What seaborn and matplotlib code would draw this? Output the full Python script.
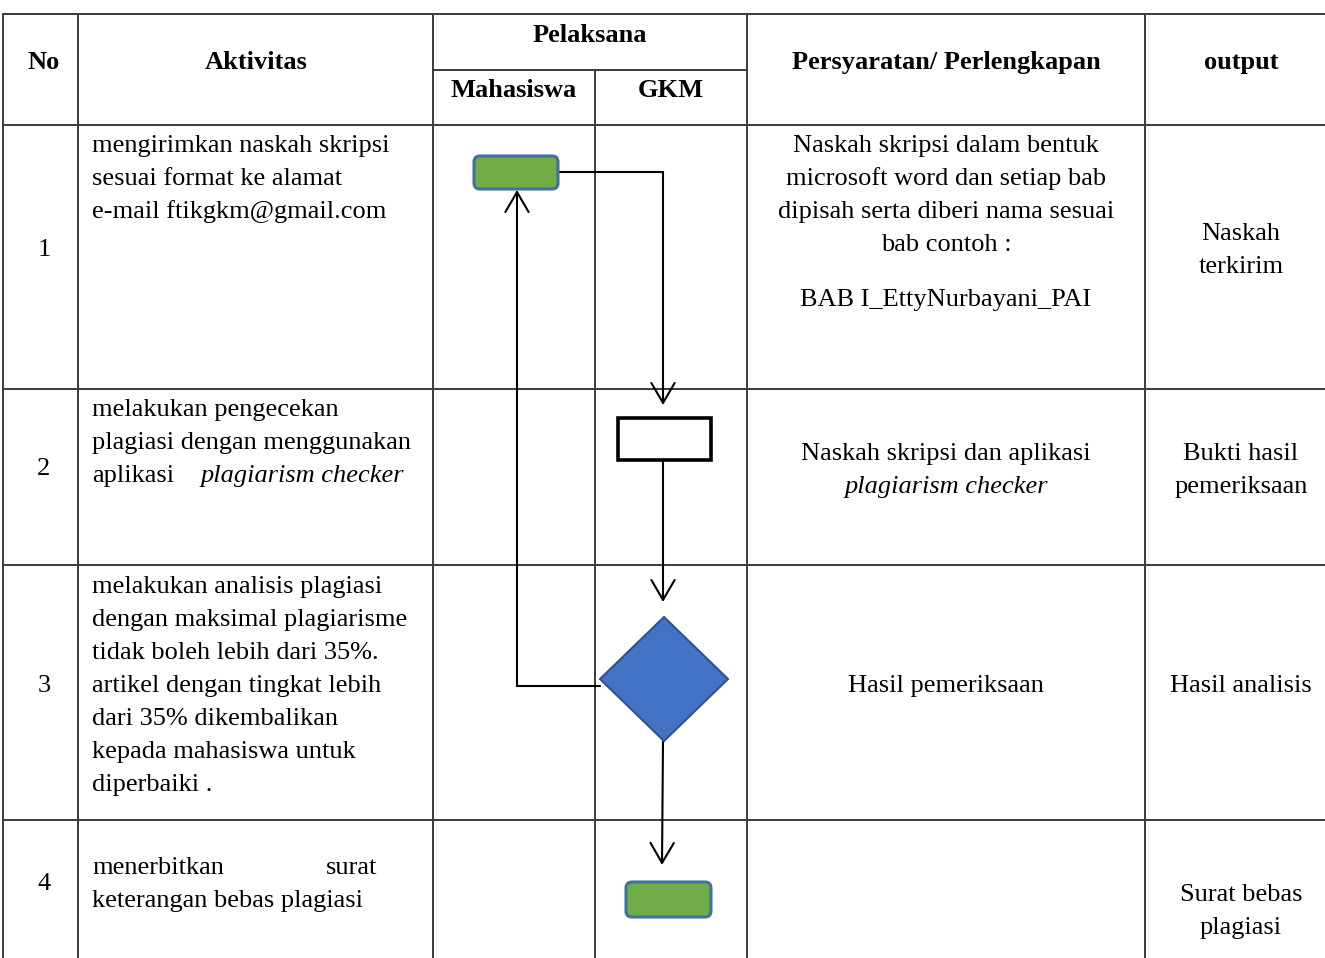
import matplotlib
matplotlib.use("Agg")
import matplotlib.pyplot as plt
import seaborn as sns
from matplotlib.patches import FancyBboxPatch, Rectangle, Polygon

# ---- data ----
headers = ["No", "Aktivitas", "Pelaksana", "Mahasiswa", "GKM",
           "Persyaratan/ Perlengkapan", "output"]
row_numbers = ["1", "2", "3", "4"]
activity_lines = [
    ["mengirimkan naskah skripsi", "sesuai format ke alamat",
     "e-mail ftikgkm@gmail.com"],
    ["melakukan pengecekan", "plagiasi dengan menggunakan", "aplikasi"],
    ["melakukan analisis plagiasi", "dengan maksimal plagiarisme",
     "tidak boleh lebih dari 35%.", "artikel dengan tingkat lebih",
     "dari 35% dikembalikan", "kepada mahasiswa untuk", "diperbaiki ."],
    ["menerbitkan", "keterangan bebas plagiasi"],
]
requirement_lines = [
    ["Naskah skripsi dalam bentuk", "microsoft word dan setiap bab",
     "dipisah serta diberi nama sesuai", "bab contoh :", "",
     "BAB I_EttyNurbayani_PAI"],
    ["Naskah skripsi dan aplikasi", "plagiarism checker"],
    ["Hasil pemeriksaan"],
    [],
]
output_lines = [
    ["Naskah", "terkirim"],
    ["Bukti hasil", "pemeriksaan"],
    ["Hasil analisis"],
    ["Surat bebas", "plagiasi"],
]

# ---- layout (pixels) ----
W, H = 1325, 958
col_x = [3, 78, 433, 595, 747, 1145, 1325]
y_top, y_mid = 14, 70
row_y = [125, 389, 565, 820, 958]
line_h = 33
dy = 3  # centre offset for text

sns.set_theme(style="white")
plt.rcParams['font.family'] = ['Liberation Serif', 'DejaVu Serif']
plt.rcParams['text.color'] = 'black'

fig = plt.figure(figsize=(W / 100, H / 100), dpi=100)
ax = fig.add_axes([0, 0, 1, 1])
ax.set_xlim(0, W)
ax.set_ylim(H, 0)
ax.axis('off')

grid_kw = dict(color='#3a3a3a', lw=1.4, zorder=1)
# horizontal lines
ax.plot([col_x[0], W], [y_top, y_top], **grid_kw)
ax.plot([col_x[2], col_x[4]], [y_mid, y_mid], **grid_kw)
for y in row_y[:-1]:
    ax.plot([col_x[0], W], [y, y], **grid_kw)
# vertical lines
for i, x in enumerate(col_x[:-1]):
    if i == 3:
        ax.plot([x, x], [y_mid, H], **grid_kw)
    else:
        ax.plot([x, x], [y_top, H], **grid_kw)

fs = 19


def put(x, y, s, **kw):
    kw.setdefault('ha', 'center')
    ax.text(x, y + dy, s, fontsize=fs, va='center', color='black', **kw)


# headers
put(44, 59, headers[0], fontweight='bold')
put(256, 59, headers[1], fontweight='bold')
put(590, 32, headers[2], fontweight='bold')
put(514, 87, headers[3], fontweight='bold')
put(671, 87, headers[4], fontweight='bold')
put(946, 59, headers[5], fontweight='bold')
put(1241, 59, headers[6], fontweight='bold')

# row numbers
num_y = [247, 466, 683, 881]
for n, y in zip(row_numbers, num_y):
    put(44, y, n)

# activities
act_y0 = [143, 407, 584, 865]
for lines, y0 in zip(activity_lines, act_y0):
    for k, t in enumerate(lines):
        put(92, y0 + k * line_h, t, ha='left')
put(201, act_y0[1] + 2 * line_h, "plagiarism checker", ha='left', style='italic')
put(377, act_y0[3], "surat", ha='right')

# requirements
req_y0 = [143, 451, 683, None]
for j, (lines, y0) in enumerate(zip(requirement_lines, req_y0)):
    for k, t in enumerate(lines):
        style = 'italic' if (j == 1 and k == 1) else 'normal'
        yy = y0 + k * line_h
        if j == 0 and k == 5:
            yy = 297
        put(946, yy, t, style=style)

# outputs
out_y0 = [231, 451, 683, 892]
for lines, y0 in zip(output_lines, out_y0):
    for k, t in enumerate(lines):
        put(1241, y0 + k * line_h, t)

# ---- flow shapes ----
green, green_edge = '#70AD47', '#41719C'
blue, blue_edge = '#4472C4', '#2F528F'

ax.add_patch(FancyBboxPatch((474, 156), 84, 33,
                            boxstyle="round,pad=0,rounding_size=6",
                            fc=green, ec=green_edge, lw=2.2, zorder=3))
ax.add_patch(Rectangle((618, 418), 93, 42, fc='white', ec='black',
                       lw=2.6, zorder=3))
ax.add_patch(Polygon([(664, 617), (728, 679), (664, 741), (600, 679)],
                     closed=True, fc=blue, ec=blue_edge, lw=1.5, zorder=3))
ax.add_patch(FancyBboxPatch((626, 882), 85, 35,
                            boxstyle="round,pad=0,rounding_size=6",
                            fc=green, ec=green_edge, lw=2.2, zorder=3))

line_kw = dict(color='black', lw=1.5, zorder=2)
arrow_kw = dict(arrowstyle='->,head_length=1.2,head_width=0.7',
                color='black', lw=1.5, shrinkA=0, shrinkB=0)

# start -> check
ax.plot([558, 663], [172, 172], **line_kw)
ax.annotate('', xy=(663, 405), xytext=(663, 172), arrowprops=arrow_kw, zorder=2)
# check -> decision
ax.annotate('', xy=(663, 602), xytext=(663, 460), arrowprops=arrow_kw, zorder=2)
# decision -> back to start
ax.plot([600, 517], [686, 686], **line_kw)
ax.annotate('', xy=(517, 190), xytext=(517, 686), arrowprops=arrow_kw, zorder=2)
# decision -> finish
ax.annotate('', xy=(662, 865), xytext=(663, 741), arrowprops=arrow_kw, zorder=2)

fig.savefig("out.png", dpi=100)
